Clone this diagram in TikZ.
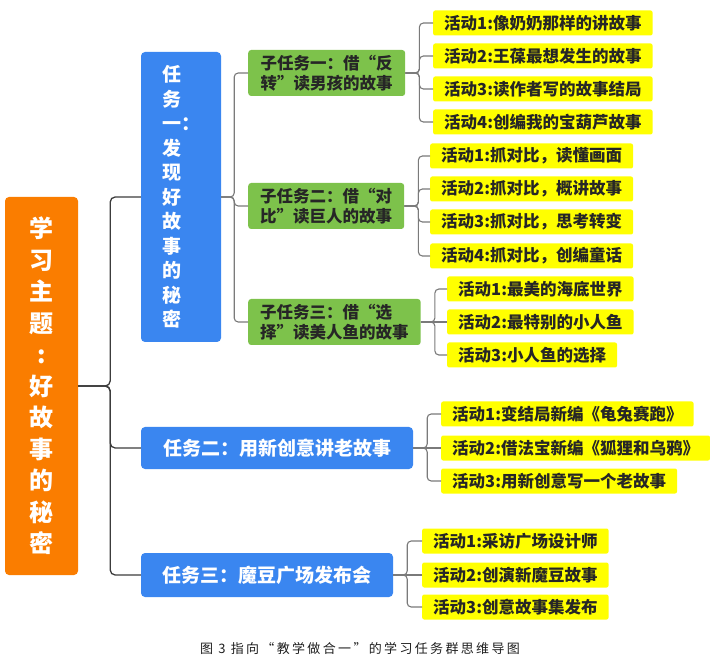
\documentclass[tikz,border=0pt]{standalone}
\usepackage{fontspec}
\setmainfont{Noto Sans CJK SC}
\newfontfamily\capfont{Noto Sans CJK SC}[LetterSpace=18]
\usetikzlibrary{positioning}
\definecolor{rootorange}{HTML}{FA7D00}
\definecolor{taskblue}{HTML}{3A86F0}
\definecolor{subgreen}{HTML}{7DC24B}
\definecolor{actyellow}{HTML}{FFFF00}
\definecolor{linkgray}{HTML}{7A7A7A}
\definecolor{trunkgray}{HTML}{3C3C3C}

\begin{document}
\begin{tikzpicture}[
	x=1pt, y=-1pt,
	zhuti/.style={rectangle, rounded corners=4pt, fill=rootorange, text=white, minimum width=73pt, minimum height=378pt, inner sep=0pt, align=center, font={\bfseries\fontsize{24}{31.5}\selectfont}},
	renwu/.style={rectangle, rounded corners=4pt, fill=taskblue, text=white, inner sep=0pt, align=center, font={\bfseries\fontsize{19}{24.5}\selectfont}},
	zirenwu/.style={rectangle, rounded corners=3pt, fill=subgreen, text=black!85, minimum height=46pt, inner xsep=12pt, inner ysep=0pt, align=left, anchor=west, font={\bfseries\fontsize{16.5}{20}\selectfont}},
	huodong/.style={rectangle, rounded corners=2pt, fill=actyellow, text=black!85, minimum height=25pt, inner xsep=11pt, inner ysep=0pt, anchor=west, font={\bfseries\fontsize{16.5}{20}\selectfont}},
	gan/.style={draw=trunkgray, line width=1.3pt, rounded corners=5pt},
	zhi/.style={draw=linkgray, line width=1.1pt, rounded corners=4pt},
]
\useasboundingbox (0,0) rectangle (710,660);
% root and tasks
\node[zhuti] (zt) at (41.5,386) {学\\习\\主\\题\\:\\好\\故\\事\\的\\秘\\密};
\node[renwu, align=left, minimum width=80pt, minimum height=290pt] (r1) at (181,197) {任\\务\\一：\\发\\现\\好\\故\\事\\的\\秘\\密};
\node[renwu, minimum width=272pt, minimum height=42pt] (r2) at (277,448) {任务二：用新创意讲老故事};
\node[renwu, minimum width=252pt, minimum height=44pt] (r3) at (267,575) {任务三：魔豆广场发布会};
% sub tasks
\node[zirenwu, minimum width=157pt] (z1) at (248,73) {子任务一：借“反\\转”读男孩的故事};
\node[zirenwu, minimum width=154pt] (z2) at (248,206) {子任务二：借“对\\比”读巨人的故事};
\node[zirenwu, minimum width=170pt] (z3) at (248,322) {子任务三：借“选\\择”读美人鱼的故事};
% activities
\node[huodong] (a11) at (433,23) {活动1:像奶奶那样的讲故事};
\node[huodong] (a12) at (433,56) {活动2:王葆最想发生的故事};
\node[huodong] (a13) at (433,89) {活动3:读作者写的故事结局};
\node[huodong] (a14) at (433,122) {活动4:创编我的宝葫芦故事};
\node[huodong] (a21) at (430,156) {活动1:抓对比，读懂画面};
\node[huodong] (a22) at (430,189) {活动2:抓对比，概讲故事};
\node[huodong] (a23) at (430,222) {活动3:抓对比，思考转变};
\node[huodong] (a24) at (430,256) {活动4:抓对比，创编童话};
\node[huodong] (a31) at (447,289) {活动1:最美的海底世界};
\node[huodong] (a32) at (447,322) {活动2:最特别的小人鱼};
\node[huodong] (a33) at (447,355) {活动3:小人鱼的选择};
\node[huodong] (b1) at (441,414) {活动1:变结局新编《龟兔赛跑》};
\node[huodong] (b2) at (441,448) {活动2:借法宝新编《狐狸和乌鸦》};
\node[huodong] (b3) at (441,481) {活动3:用新创意写一个老故事};
\node[huodong] (c1) at (422,541) {活动1:采访广场设计师};
\node[huodong] (c2) at (422,575) {活动2:创演新魔豆故事};
\node[huodong] (c3) at (422,607) {活动3:创意故事集发布};
% connectors
\draw[gan] (zt.east) -- ++(32,0) |- (r1.west); \draw[gan] (zt.east) -- ++(32,0) |- (r2.west); \draw[gan] (zt.east) -- ++(32,0) |- (r3.west);
\draw[zhi] (r1.east) -- ++(13,0) |- (z1.west); \draw[zhi] (r1.east) -- ++(13,0) |- (z2.west); \draw[zhi] (r1.east) -- ++(13,0) |- (z3.west);
\draw[zhi] (z1.east) -- ++(14,0) |- (a11.west); \draw[zhi] (z1.east) -- ++(14,0) |- (a12.west); \draw[zhi] (z1.east) -- ++(14,0) |- (a13.west); \draw[zhi] (z1.east) -- ++(14,0) |- (a14.west);
\draw[zhi] (z2.east) -- ++(14,0) |- (a21.west); \draw[zhi] (z2.east) -- ++(14,0) |- (a22.west); \draw[zhi] (z2.east) -- ++(14,0) |- (a23.west); \draw[zhi] (z2.east) -- ++(14,0) |- (a24.west);
\draw[zhi] (z3.east) -- ++(14,0) |- (a31.west); \draw[zhi] (z3.east) -- (a32.west); \draw[zhi] (z3.east) -- ++(14,0) |- (a33.west);
\draw[zhi] (r2.east) -- ++(14,0) |- (b1.west); \draw[zhi] (r2.east) -- (b2.west); \draw[zhi] (r2.east) -- ++(14,0) |- (b3.west);
\draw[zhi] (r3.east) -- ++(14,0) |- (c1.west); \draw[zhi] (r3.east) -- (c2.west); \draw[zhi] (r3.east) -- ++(14,0) |- (c3.west);
% caption
\node[font={\capfont\fontsize{13}{15}\selectfont}, text=black!88] (tu) at (360,649) {图 3 指向“教学做合一”的学习任务群思维导图};
\end{tikzpicture}
\end{document}
